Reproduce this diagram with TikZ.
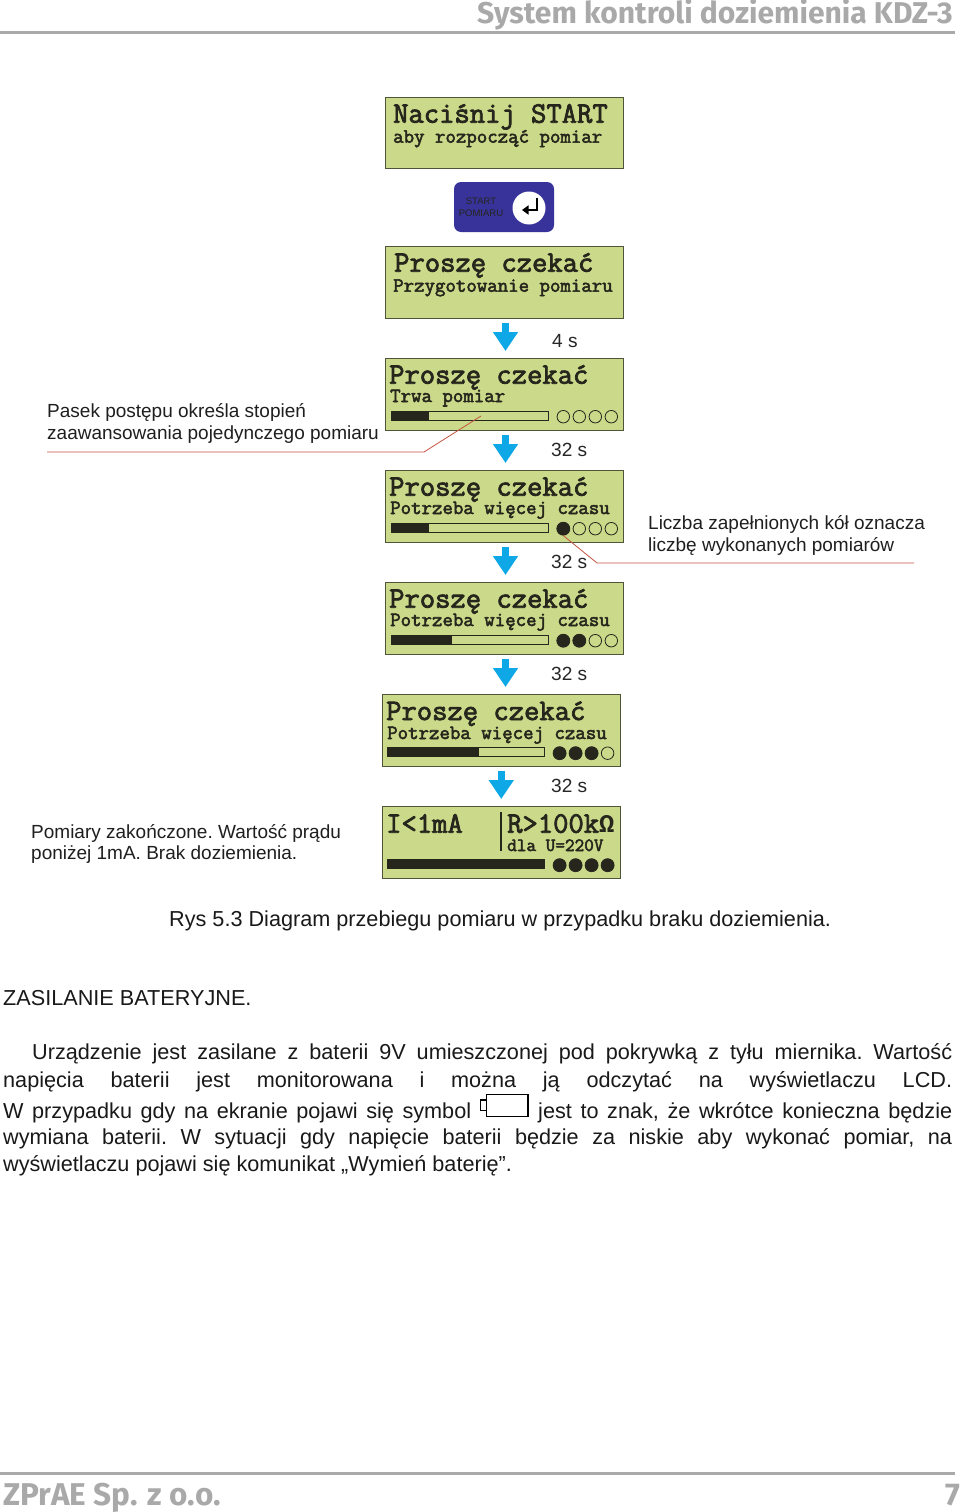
\documentclass[tikz,border=0pt]{standalone}
\usepackage{fontspec}
\setmainfont{Liberation Sans}
\newfontfamily\omegafont{Liberation Mono Bold}
\newfontfamily\lcdfont{Latin Modern Mono}[FakeBold=2.6]
\newfontfamily\brandfont{Fira Sans}[BoldFont={Fira Sans Bold}]
\usetikzlibrary{arrows.meta}
\definecolor{lcdgreen}{HTML}{CBD98A}
\definecolor{lcdedge}{HTML}{50543A}
\definecolor{lcdink}{HTML}{26261C}
\definecolor{flowblue}{HTML}{0FA8E6}
\definecolor{leader}{HTML}{C4543F}
\definecolor{brand}{HTML}{A9A9A9}
\definecolor{keyblue}{HTML}{37339A}
\newcommand{\fs}[1]{\fontsize{#1}{#1}\selectfont}
\tikzset{
  x=1pt,y=-1pt,
  lcd/.style={draw=lcdedge,line width=1.3,fill=lcdgreen,inner sep=0,anchor=north west},
  txt/.style={inner sep=0,anchor=base west,text depth=0pt},
  big/.style={txt,font=\lcdfont\fs{29.75},text=lcdink},
  small/.style={txt,font=\lcdfont\fs{20.3},text=lcdink},
  label/.style={txt,font=\frenchspacing\fs{19},text=black!88},
  body/.style={txt,font=\frenchspacing\fs{21.65},text=black!90},
  time/.style={txt,font=\fs{19.1},text=black!85},
  flow/.style={draw=flowblue,line width=7,-{Triangle[length=19,width=24]},shorten <=4,shorten >=7},
  lead/.style={draw=leader,line width=0.8},
  brandtxt/.style={txt,font=\brandfont\bfseries,text=brand},
  rulebar/.style={draw=brand,line width=3},
  barbox/.style={draw=lcdink,line width=1,fill=lcdgreen},
  dotopen/.style={draw=lcdink,line width=0.8,fill=lcdgreen,circle,inner sep=0,minimum size=12.5},
  dotfull/.style={draw=lcdink,line width=0.8,fill=lcdink,circle,inner sep=0,minimum size=13},
}
% name, x1, y1, x2, y2
\newcommand{\lcdbox}[5]{\node[lcd,minimum width=#4-#2,minimum height=#5-#3] (#1) at (#2,#3) {};}
% name prefix, bar x, bar y, fill end x, filled dots count
\newcommand{\status}[5]{%
  \path[barbox] (#2,#3) rectangle (#2+157,#3+9);
  \fill[lcdink] (#2,#3) rectangle (#4,#3+9);
  \foreach \k in {1,...,4}{
    \pgfmathsetmacro{\cx}{#2+172.3+16*(\k-1)}
    \ifnum\k>#5\relax
      \node[dotopen] (#1d\k) at (\cx,#3+5.7) {};
    \else
      \node[dotfull] (#1d\k) at (\cx,#3+5.7) {};
    \fi
  }%
}
\begin{document}
\begin{tikzpicture}
\useasboundingbox[fill=white] (0,0) rectangle (960,1512);
% header and footer
\draw[rulebar] (0,33) -- (955,33);
\draw[rulebar] (0,1473.5) -- (955,1473.5);
\node[brandtxt,font=\brandfont\bfseries\fs{30.05}] (head) at (477,24) {System kontroli doziemienia KDZ-3};
\node[brandtxt,font=\brandfont\bfseries\fs{31.5}] (foot) at (3,1505) {ZPrAE Sp. z o.o.};
\node[brandtxt,font=\brandfont\bfseries\fs{31.5}] (page) at (945,1505) {7};
% screens
\lcdbox{s1}{385}{97}{622.7}{168}
\lcdbox{s2}{385}{246}{622.7}{318}
\lcdbox{s3}{385}{358}{622.7}{430}
\lcdbox{s4}{385}{470}{622.7}{542}
\lcdbox{s5}{385}{582}{622.7}{654}
\lcdbox{s6}{381.5}{694}{619.7}{766}
\lcdbox{s7}{381.5}{806}{619.7}{878}
\node[big] (t1a) at (393,122.7) {Naciśnij START};
\node[small] (t1b) at (393,142.7) {aby rozpocząć pomiar};
\node[big] (t2a) at (394,271.7) {Proszę czekać};
\node[small] (t2b) at (393,291.7) {Przygotowanie pomiaru};
\node[big] (t3a) at (389,383.7) {Proszę czekać};
\node[small] (t3b) at (390,402) {Trwa pomiar};
\node[big] (t4a) at (389,495.7) {Proszę czekać};
\node[small] (t4b) at (390,514) {Potrzeba więcej czasu};
\node[big] (t5a) at (389,607.7) {Proszę czekać};
\node[small] (t5b) at (390,626) {Potrzeba więcej czasu};
\node[big] (t6a) at (386,720) {Proszę czekać};
\node[small] (t6b) at (387,739) {Potrzeba więcej czasu};
\node[big] (t7a) at (386,832.7) {I<1mA};
\node[big] (t7b) at (507,832.7) {R>100k{\omegafont\fs{25.5}Ω}};
\node[txt,font=\lcdfont\fs{18.7},text=lcdink] (t7c) at (507,851) {dla U=220V};
\draw[lcdink,line width=2] (501,812) -- (501,851);
\status{a}{391}{411}{429}{0}
\status{b}{391}{523}{429}{1}
\status{c}{391}{635}{452}{2}
\status{e}{387.3}{747.5}{479}{3}
\status{f}{387.3}{859.5}{544.3}{4}
% start key
\node[draw=none,fill=keyblue,rounded corners=7,minimum width=100,minimum height=50,inner sep=0] (key) at (504,207) {};
\node[circle,fill=white,draw=none,minimum size=33,inner sep=0] (keyc) at (529,208) {};
\node[font=\fs{9.5},text=lcdink,align=center,inner sep=0] (keyt) at (481,207) {START\\[2.5pt]POMIARU};
\draw[line width=2.4,-{Triangle[length=6.5,width=9]},black] (537,198) -- (537,210) -- (522,210);
% arrows
\draw[flow] ([xshift=1]s2.south) -- ([xshift=1]s2.south |- s3.north);
\draw[flow] ([xshift=1]s3.south) -- ([xshift=1]s3.south |- s4.north);
\draw[flow] ([xshift=1]s4.south) -- ([xshift=1]s4.south |- s5.north);
\draw[flow] ([xshift=1]s5.south) -- ([xshift=1]s5.south |- s6.north);
\draw[flow] (s6.south) -- (s6.south |- s7.north);
% times
\node[time] (d1) at (552,347) {4 s};
\node[time] (d2) at (551,456.5) {32 s};
\node[time] (d3) at (551,568.5) {32 s};
\node[time] (d4) at (551,680.5) {32 s};
\node[time] (d5) at (551,792.5) {32 s};
% side labels
\node[label] (l1a) at (47,417.5) {Pasek postępu określa stopień};
\node[label] (l1b) at (47,439) {zaawansowania pojedynczego pomiaru};
\node[label] (l2a) at (648,529) {Liczba zapełnionych kół oznacza};
\node[label] (l2b) at (648,551) {liczbę wykonanych pomiarów};
\node[label] (l3a) at (31,838) {Pomiary zakończone. Wartość prądu};
\node[label] (l3b) at (31,859) {poniżej 1mA. Brak doziemienia.};
% leaders
\coordinate (c1) at (47,452);
\coordinate (c2) at (424,452);
\coordinate (c3) at (481,416);
\coordinate (c4) at (914,563);
\coordinate (c5) at (597,563);
\draw[lead] (c1) -- (c2) -- (c3);
\draw[lead] (c4) -- (c5) -- (bd1.south);
% caption and body
\node[body] (cap) at (169,926) {Rys 5.3 Diagram przebiegu pomiaru w przypadku braku doziemienia.};
\node[body] (h1) at (3,1005.5) {ZASILANIE BATERYJNE.};
\node[body] (p1) at (32,1059.5) {\makebox[920pt][s]{Urządzenie jest zasilane z baterii 9V umieszczonej pod pokrywką z tyłu miernika. Wartość}};
\node[body] (p2) at (3,1087) {\makebox[949pt][s]{napięcia baterii jest monitorowana i można ją odczytać na wyświetlaczu LCD.}};
\node[body] (p3a) at (3,1118) {\makebox[468pt][s]{W przypadku gdy na ekranie pojawi się symbol}};
\node[body] (p3b) at (538,1118) {\makebox[414pt][s]{jest to znak, że wkrótce konieczna będzie}};
\node[body] (p4) at (3,1144.5) {\makebox[949pt][s]{wymiana baterii. W sytuacji gdy napięcie baterii będzie za niskie aby wykonać pomiar, na}};
\node[body] (p5) at (3,1171.5) {wyświetlaczu pojawi się komunikat „Wymień baterię”.};
% battery symbol
\draw[black,line width=1.4] (486.7,1094.3) rectangle (528,1116.7);
\draw[black,line width=1.4] (486.7,1100) -- (480.7,1100) -- (480.7,1110.7) -- (486.7,1110.7);
\end{tikzpicture}
\end{document}
